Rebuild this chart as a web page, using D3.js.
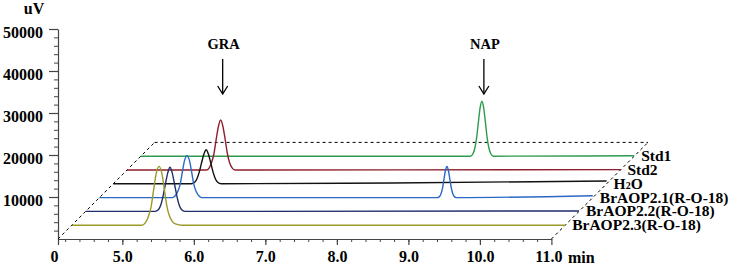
<!DOCTYPE html>
<html>
<head>
<meta charset="utf-8">
<script src="https://cdn.jsdelivr.net/npm/d3@7"></script>
<style>
  body { margin: 0; background: #fff; }
  svg text { font-family: "Liberation Serif", "Times New Roman", Tinos, "DejaVu Serif", serif; font-weight: bold; }
</style>
</head>
<body>
<div class="chart"></div>
<script>
const width = 737
const height = 268

// series names, back to front
const names = ["Std1", "Std2", "H2O", "BrAOP2.1(R-O-18)", "BrAOP2.2(R-O-18)", "BrAOP2.3(R-O-18)"]
const colors = ["#2e9a4e", "#8e1e2c", "#111111", "#2a68c6", "#1f2d6c", "#9a9a28"]

// [time (min), signal (uV)], each relative to its own baseline
const std1 = [[4.1, 0], [8.71, 0], [8.745, 580], [8.77, 1830], [8.795, 4190], [8.82, 7990], [8.845, 11530], [8.87, 13100], [8.895, 11530], [8.92, 7990], [8.945, 4190], [8.97, 1830], [8.995, 580], [9.03, 0], [11.0, 100]]
const std2 = [[4.1, 0], [5.21, 0], [5.25, 520], [5.28, 1670], [5.315, 3810], [5.347, 7260], [5.38, 10470], [5.41, 11900], [5.44, 10470], [5.473, 7260], [5.505, 3810], [5.536, 1670], [5.57, 520], [5.61, 0], [11.0, 100]]
const h2o = [[4.1, 0], [5.19, 0], [5.24, 360], [5.27, 1130], [5.30, 2590], [5.335, 4940], [5.37, 7130], [5.40, 8100], [5.43, 7130], [5.465, 4940], [5.50, 2590], [5.53, 1130], [5.56, 360], [5.61, 0], [8.0, 200], [11.0, 650]]
const braop21 = [[4.1, 0], [5.12, 0], [5.16, 440], [5.195, 1400], [5.23, 3200], [5.26, 6100], [5.29, 8800], [5.325, 10000], [5.36, 8800], [5.39, 6100], [5.42, 3200], [5.455, 1400], [5.49, 440], [5.53, 0], [8.83, 0], [8.86, 330], [8.88, 1040], [8.90, 2370], [8.92, 4510], [8.94, 6510], [8.96, 7400], [8.98, 6510], [9.0, 4510], [9.02, 2370], [9.04, 1040], [9.06, 330], [9.09, 0], [11.0, 450]]
const braop22 = [[4.1, 0], [5.07, 0], [5.12, 460], [5.15, 1470], [5.18, 3360], [5.215, 6400], [5.25, 9240], [5.28, 10500], [5.31, 9240], [5.345, 6400], [5.38, 3360], [5.41, 1470], [5.44, 460], [5.49, 0], [11.0, 100]]
const braop23 = [[4.1, 0], [5.08, 0], [5.13, 600], [5.17, 2000], [5.21, 4500], [5.245, 8500], [5.28, 12300], [5.32, 14000], [5.36, 12300], [5.395, 8500], [5.43, 4500], [5.47, 2000], [5.51, 800], [5.56, 250], [5.64, 0], [11.0, 0]]
const traces = [std1, std2, h2o, braop21, braop22, braop23]

const xTicks = [4.1, 5, 6, 7, 8, 9, 10, 11]
const yTicks = [10000, 20000, 30000, 40000, 50000]

// peak annotations: label, trace index, peak time
const peaks = [["GRA", 1, 5.41], ["NAP", 0, 8.87]]

const step = 13.8 // depth offset per trace
const x0 = 58
const y0 = 239
const serif = "'Liberation Serif', 'Times New Roman', Tinos, 'DejaVu Serif', serif"

const svg = d3.select(".chart")
    .append("svg")
    .attr("width", width)
    .attr("height", height)
    .attr("font-family", serif)

const xScale = d3.scaleLinear()
    .domain([4.1, 11.0])
    .range([x0, 551.4])

const yScale = d3.scaleLinear()
    .domain([0, 50000])
    .range([y0, 29])

// minor ticks
const xMinor = d3.range(4.2, 11.0, 0.2)
const yMinor = d3.range(2000, 50001, 2000)

svg.append("g")
    .attr("transform", "translate(0," + y0 + ")")
    .call(d3.axisBottom(xScale).tickValues(xMinor).tickSize(3).tickFormat("").tickSizeOuter(0))
    .call(g => g.select(".domain").remove())
    .selectAll("line").attr("stroke", "#444")

svg.append("g")
    .attr("transform", "translate(" + x0 + ",0)")
    .call(d3.axisLeft(yScale).tickValues(yMinor).tickSize(4).tickFormat("").tickSizeOuter(0))
    .call(g => g.select(".domain").remove())
    .selectAll("line").attr("stroke", "#444")

const xAxis = svg.append("g")
    .attr("transform", "translate(0," + y0 + ")")
    .call(d3.axisBottom(xScale)
        .tickValues(xTicks)
        .tickSize(6)
        .tickSizeOuter(0)
        .tickFormat(d => d === 4.1 ? "0" : d.toFixed(1)))
    .attr("font-family", serif)
xAxis.selectAll("text")
    .attr("font-size", 16)
    .attr("fill", "#000")
    .attr("y", 12)
xAxis.select("text").attr("dx", -4)
xAxis.selectAll("text").filter(d => d === 11).attr("dx", -3)
xAxis.selectAll("line, path").attr("stroke", "#444").attr("stroke-width", 1.2)

const yAxis = svg.append("g")
    .attr("transform", "translate(" + x0 + ",0)")
    .call(d3.axisLeft(yScale)
        .tickValues(yTicks)
        .tickSize(9)
        .tickSizeOuter(0)
        .tickFormat(d3.format("d")))
    .attr("font-family", serif)
yAxis.selectAll("text")
    .attr("font-size", 16)
    .attr("fill", "#000")
    .attr("x", -15)
    .attr("dy", "0.5em")
yAxis.selectAll("line, path").attr("stroke", "#444").attr("stroke-width", 1.2)

svg.append("text")
    .attr("x", 34)
    .attr("y", 14)
    .attr("text-anchor", "middle")
    .attr("font-size", 16)
    .text("uV")

svg.append("text")
    .attr("x", 568)
    .attr("y", 263)
    .attr("font-size", 16)
    .text("min")

// dashed depth frame
const depth = step * (traces.length + 1)
const frame = [
    [xScale(4.1), y0, xScale(4.1) + depth, y0 - depth],
    [xScale(11.0), y0, xScale(11.0) + depth, y0 - depth],
    [xScale(4.1) + depth, y0 - depth, xScale(11.0) + depth, y0 - depth]
]
svg.selectAll(".frame")
    .data(frame)
    .join("line")
    .attr("x1", d => d[0])
    .attr("y1", d => d[1])
    .attr("x2", d => d[2])
    .attr("y2", d => d[3])
    .attr("stroke", "#000")
    .attr("stroke-width", 1)
    .attr("stroke-dasharray", "3,3")

const line = d3.line()
    .curve(d3.curveMonotoneX)
    .x(d => xScale(d[0]))
    .y(d => yScale(d[1]))

traces.forEach(function(data, i) {
    const k = traces.length - i
    const g = svg.append("g")
        .attr("transform", "translate(" + (k * step) + "," + (-k * step) + ")")
    g.append("path")
        .attr("d", line(data))
        .attr("fill", "none")
        .attr("stroke", colors[i])
        .attr("stroke-width", 1.4)

    const label = g.append("text")
        .attr("x", xScale(11.0) + 7)
        .attr("y", y0 + 5)
        .attr("font-size", 15.5)
    if (names[i] === "H2O") {
        label.append("tspan").text("H")
        label.append("tspan").attr("font-size", 10).text("2")
        label.append("tspan").text("O")
    } else {
        label.text(names[i])
    }
})

// arrows
peaks.forEach(function(p) {
    const k = traces.length - p[1]
    const ax = xScale(p[2]) + k * step + 2
    svg.append("text")
        .attr("x", ax + 1)
        .attr("y", 49)
        .attr("text-anchor", "middle")
        .attr("font-size", 14.5)
        .text(p[0])
    svg.append("line")
        .attr("x1", ax).attr("y1", 59)
        .attr("x2", ax).attr("y2", 94)
        .attr("stroke", "#000")
        .attr("stroke-width", 1.3)
    svg.append("polyline")
        .attr("points", [[ax - 5, 86], [ax, 94], [ax + 5, 86]].join(" "))
        .attr("fill", "none")
        .attr("stroke", "#000")
        .attr("stroke-width", 1.3)
})
</script>
</body>
</html>
